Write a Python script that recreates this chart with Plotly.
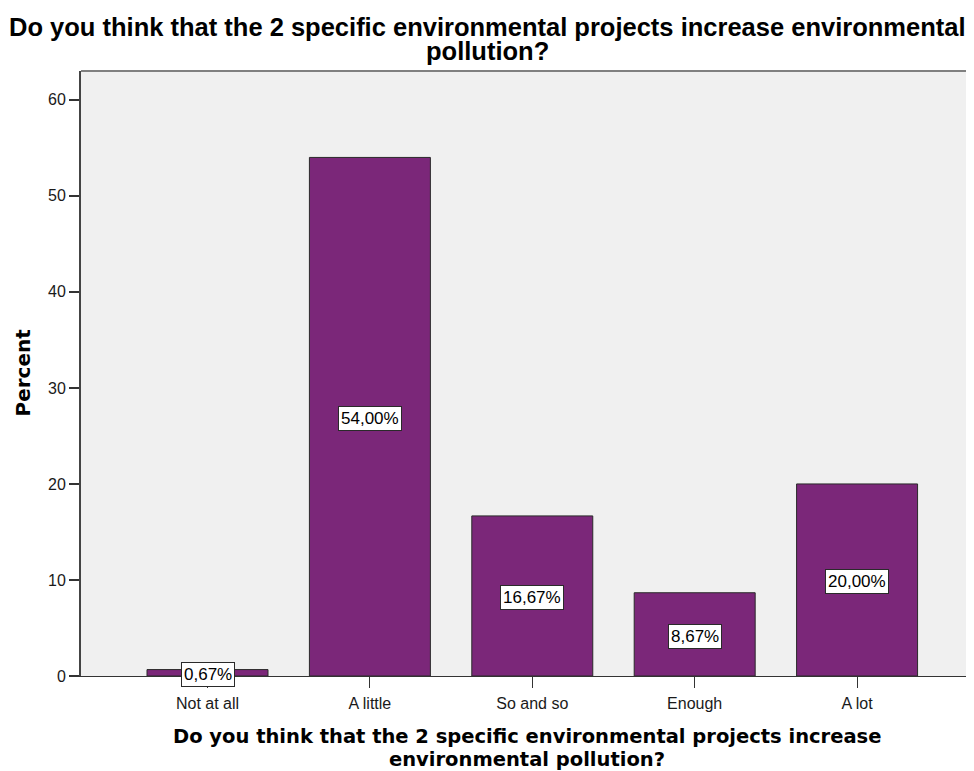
import plotly.graph_objects as go

categories = ["Not at all", "A little", "So and so", "Enough", "A lot"]
percents = [0.67, 54.00, 16.67, 8.67, 20.00]
labels = ["0,67%", "54,00%", "16,67%", "8,67%", "20,00%"]
y_ticks = [0, 10, 20, 30, 40, 50, 60]

title_lines = ["Do you think that the 2 specific environmental projects increase environmental",
               "pollution?"]
xtitle_lines = ["Do you think that the 2 specific environmental projects increase",
                "environmental pollution?"]
ytitle = "Percent"

# page has an 8px body margin -> figure is 8px smaller
W, H = 966, 763
L, R, T, B = 73, 0, 63, 95
PW, PH = W - L - R, H - T - B


def px_x(xf):
    return (xf - L) / PW


def px_y(yf):
    return (H - B - yf) / PH


fig = go.Figure()
fig.add_trace(go.Bar(
    x=list(range(len(categories))), y=percents,
    width=0.745,
    marker=dict(color="#7B2779", line=dict(color="#2a2a2a", width=1)),
    hoverinfo="skip",
))

for i, (v, lab) in enumerate(zip(percents, labels)):
    fig.add_annotation(
        x=i, y=v / 2, xref="x", yref="y", yshift=-2, text=lab, showarrow=False,
        font=dict(family="Liberation Sans, Arial", size=17, color="#000000"),
        bgcolor="#FFFFFF", bordercolor="#2a2a2a", borderwidth=1, borderpad=2,
    )

title_font = dict(family="Liberation Sans, Arial", size=25.5, color="#000000")
for line, yf in zip(title_lines, [19, 43]):
    fig.add_annotation(x=px_x(479), y=px_y(yf), xref="paper", yref="paper",
                       xanchor="center", yanchor="middle", showarrow=False,
                       text="<b>" + line + "</b>", font=title_font)

xt_font = dict(family="DejaVu Sans, Verdana", size=19.5, color="#000000")
for line, yf in zip(xtitle_lines, [728, 751]):
    fig.add_annotation(x=px_x(519), y=px_y(yf), xref="paper", yref="paper",
                       xanchor="center", yanchor="middle", showarrow=False,
                       text="<b>" + line + "</b>", font=xt_font)

fig.add_annotation(
    x=px_x(14.5), y=px_y(365), xref="paper", yref="paper",
    xanchor="center", yanchor="middle",
    text="<b>" + ytitle + "</b>", textangle=-90, showarrow=False,
    font=dict(family="DejaVu Sans, Verdana", size=20, color="#000000"),
)

fig.update_layout(
    width=W, height=H,
    margin=dict(l=L, r=R, t=T, b=B),
    paper_bgcolor="#FFFFFF",
    plot_bgcolor="#F0F0F0",
    showlegend=False,
    xaxis=dict(
        range=[-0.779, 4.72],
        tickmode="array", tickvals=list(range(len(categories))), ticktext=categories,
        ticks="outside", ticklen=11, tickcolor="#333333", tickwidth=1,
        showline=True, linecolor="#333333", linewidth=1,
        showgrid=False, zeroline=False, ticklabelstandoff=2,
        tickfont=dict(family="Liberation Sans, Arial", size=16, color="#1a1a1a"),
    ),
    yaxis=dict(
        range=[0, 63.0],
        tickmode="array", tickvals=y_ticks,
        ticks="outside", ticklen=10, tickcolor="#333333", tickwidth=2,
        showline=True, linecolor="#444444", linewidth=2,
        showgrid=False, zeroline=False,
        tickfont=dict(family="Liberation Sans, Arial", size=16, color="#1a1a1a"),
    ),
)

fig.add_shape(type="line", xref="paper", yref="paper", x0=0, x1=1, y0=1, y1=1,
              line=dict(color="#808080", width=2))

fig.write_html("out.html")
